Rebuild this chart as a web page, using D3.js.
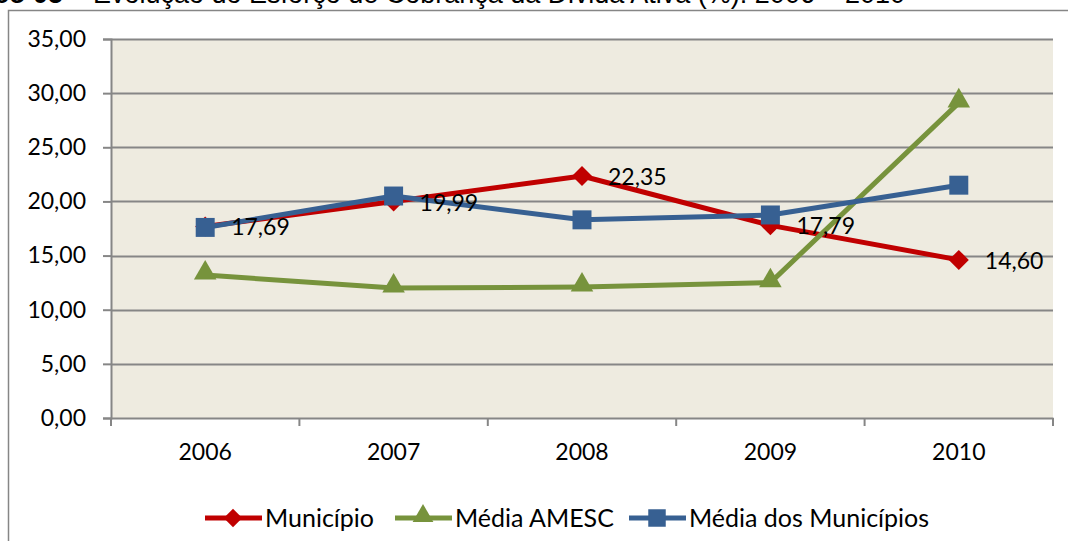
<!DOCTYPE html>
<html>
<head>
<meta charset="utf-8">
<script src="https://cdn.jsdelivr.net/npm/d3@7"></script>
<style>
  body { margin: 0; background: #fff; }
  svg { display: block; }
</style>
</head>
<body>
<svg width="1068" height="541"></svg>
<script>
var years = ["2006", "2007", "2008", "2009", "2010"];
var municipio = [17.69, 19.99, 22.35, 17.79, 14.60];
var mediaAmesc = [13.2, 12.0, 12.1, 12.5, 29.1];
var mediaMunicipios = [17.6, 20.5, 18.3, 18.75, 21.5];
var yTicks = [0, 5, 10, 15, 20, 25, 30, 35];

var series = [
  {name: "Município", values: municipio, color: "#C00000", shape: "diamond"},
  {name: "Média AMESC", values: mediaAmesc, color: "#77933C", shape: "triangle"},
  {name: "Média dos Municípios", values: mediaMunicipios, color: "#376092", shape: "square"}
];

var margins = {left: 111, top: 39, right: 1053, bottom: 418};
var fmt = function(v) { return v.toFixed(2).replace(".", ","); };
var font = "Lato, 'Open Sans', sans-serif";

var svg = d3.select("svg");

//outer chart border (cropped by the picture)
svg.append("rect")
   .attr("x", 8.5).attr("y", 10.5)
   .attr("width", 1100).attr("height", 600)
   .attr("fill", "#fff")
   .attr("stroke", "#868686").attr("stroke-width", 1.5);

//title, cut off at the top like the source
var title = svg.append("text")
   .attr("x", 905).attr("y", 3)
   .attr("text-anchor", "end")
   .style("font-family", "Liberation Sans, Arial, sans-serif")
   .style("font-size", "27px")
   .attr("fill", "#000");
title.append("tspan").style("font-weight", "bold").text("Gráfico 05");
title.append("tspan").text(" – Evolução do Esforço de Cobrança da Dívida Ativa (%): 2006 – 2010");

var xScale = d3.scaleBand().domain(years).range([margins.left, margins.right]);
var yScale = d3.scaleLinear().domain([0, 35]).range([margins.bottom, margins.top]);

//plot background
svg.append("rect")
   .attr("x", margins.left).attr("y", margins.top)
   .attr("width", margins.right - margins.left)
   .attr("height", margins.bottom - margins.top)
   .attr("fill", "#EEEBE0");

//gridlines
svg.append("g").selectAll("line")
   .data(yTicks.slice(1))
   .enter().append("line")
   .attr("x1", margins.left).attr("x2", margins.right)
   .attr("y1", function(d) {return Math.round(yScale(d)) + 0.5;})
   .attr("y2", function(d) {return Math.round(yScale(d)) + 0.5;})
   .attr("stroke", "#868686").attr("stroke-width", 2);

//y-axis
var yAxis = d3.axisLeft(yScale).tickValues(yTicks).tickFormat(fmt).tickSizeOuter(0).tickSize(8).tickPadding(17);
var yg = svg.append("g")
   .attr("transform", "translate(" + margins.left + ",0)")
   .call(yAxis);

//x-axis, ticks between the categories
var xAxis = d3.axisBottom(xScale).tickSize(0).tickPadding(26);
var xg = svg.append("g")
   .attr("transform", "translate(0," + margins.bottom + ")")
   .call(xAxis);
xg.append("g").selectAll("line")
   .data(years.concat(["end"]))
   .enter().append("line")
   .attr("x1", function(d,i) {return margins.left + i * xScale.bandwidth();})
   .attr("x2", function(d,i) {return margins.left + i * xScale.bandwidth();})
   .attr("y1", 0).attr("y2", 8)
   .attr("stroke", "#868686").attr("stroke-width", 2);

[yg, xg].forEach(function(g) {
  g.select(".domain").attr("stroke", "#868686").attr("stroke-width", 2);
  g.selectAll(".tick line").attr("stroke", "#868686").attr("stroke-width", 2);
  g.selectAll("text")
   .style("font-family", font)
   .style("font-size", "23px")
   .attr("fill", "#000");
});

var symbolFor = function(shape, size) {
  var t = shape == "triangle" ? d3.symbolTriangle : d3.symbolSquare;
  return d3.symbol().type(t).size(size)();
};
var symSize = {diamond: 200, triangle: 220, square: 360};
var symRot = function(shape) { return shape == "diamond" ? " rotate(45)" : ""; };

var line = d3.line()
   .x(function(d,i) {return xScale(years[i]) + xScale.bandwidth() / 2;})
   .y(function(d) {return yScale(d);});

series.forEach(function(s) {
  var g = svg.append("g");
  g.append("path")
   .attr("d", line(s.values))
   .attr("fill", "none")
   .attr("stroke", s.color)
   .attr("stroke-width", 5)
   .attr("stroke-linejoin", "round");
  g.selectAll("path.marker")
   .data(s.values)
   .enter().append("path")
   .classed("marker", true)
   .attr("transform", function(d,i) {
     var dy = s.shape == "triangle" ? -2 : 0;
     return "translate(" + (xScale(years[i]) + xScale.bandwidth() / 2) + "," + (yScale(d) + dy) + ")" + symRot(s.shape);
   })
   .attr("d", symbolFor(s.shape, symSize[s.shape]))
   .attr("fill", s.color);
});

//data labels for Município
svg.append("g").selectAll("text")
   .data(municipio)
   .enter().append("text")
   .attr("x", function(d,i) {return xScale(years[i]) + xScale.bandwidth() / 2 + 26;})
   .attr("y", function(d) {return yScale(d) + 9;})
   .style("font-family", font)
   .style("font-size", "23px")
   .attr("fill", "#000")
   .text(fmt);

//legend
var legendItems = [
  {s: series[0], x: 205},
  {s: series[1], x: 395},
  {s: series[2], x: 629}
];
var legend = svg.append("g").attr("transform", "translate(0,518)");
var lg = legend.selectAll("g")
   .data(legendItems)
   .enter().append("g")
   .attr("transform", function(d) {return "translate(" + d.x + ",0)";});
lg.append("line")
   .attr("x1", 0).attr("x2", 57)
   .attr("y1", 0).attr("y2", 0)
   .attr("stroke", function(d) {return d.s.color;})
   .attr("stroke-width", 5);
lg.append("path")
   .attr("transform", function(d) {return "translate(28," + (d.s.shape == "triangle" ? -2 : 0) + ")" + symRot(d.s.shape);})
   .attr("d", function(d) {return symbolFor(d.s.shape, symSize[d.s.shape] * 0.85);})
   .attr("fill", function(d) {return d.s.color;});
lg.append("text")
   .attr("x", 60).attr("y", 9)
   .style("font-family", font)
   .style("font-size", "25px")
   .attr("fill", "#000")
   .text(function(d) {return d.s.name;});
</script>
</body>
</html>
